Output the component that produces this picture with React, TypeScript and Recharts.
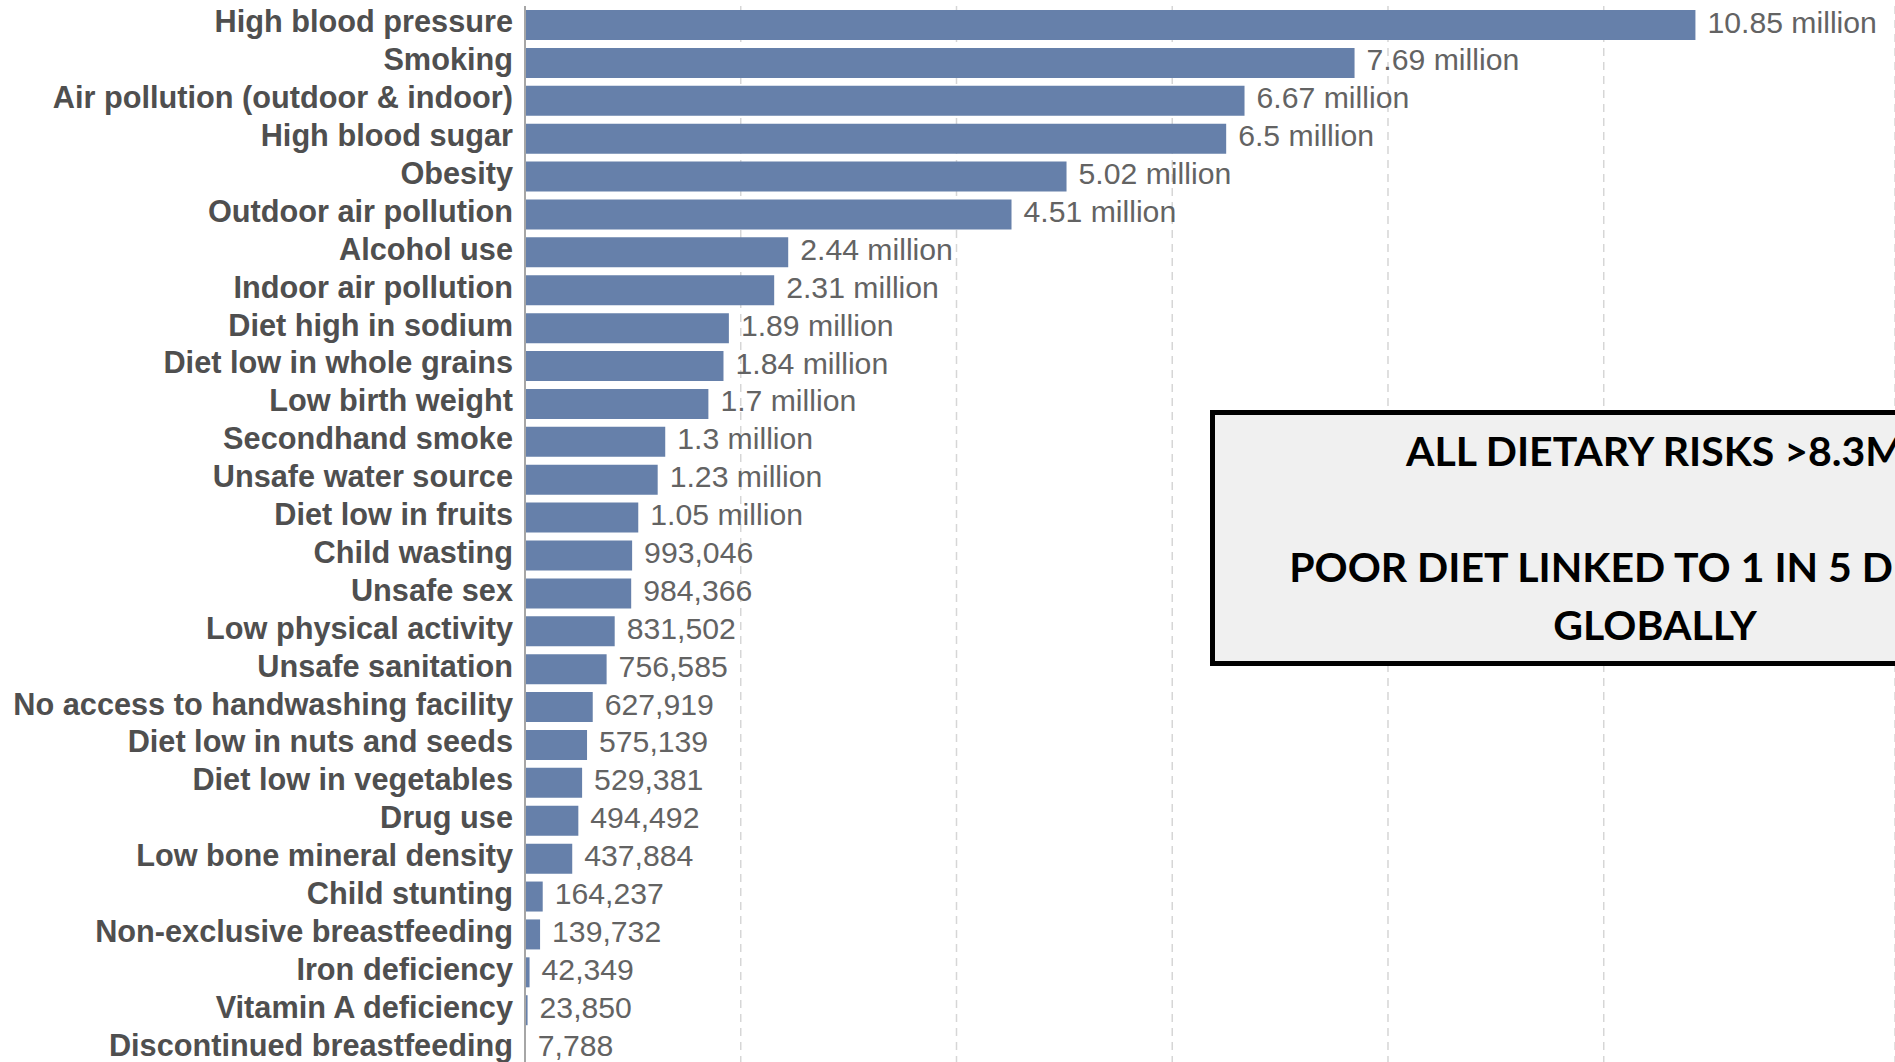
import { BarChart, Bar, XAxis, YAxis, CartesianGrid, LabelList } from "recharts";

const riskFactors = [
  "High blood pressure",
  "Smoking",
  "Air pollution (outdoor & indoor)",
  "High blood sugar",
  "Obesity",
  "Outdoor air pollution",
  "Alcohol use",
  "Indoor air pollution",
  "Diet high in sodium",
  "Diet low in whole grains",
  "Low birth weight",
  "Secondhand smoke",
  "Unsafe water source",
  "Diet low in fruits",
  "Child wasting",
  "Unsafe sex",
  "Low physical activity",
  "Unsafe sanitation",
  "No access to handwashing facility",
  "Diet low in nuts and seeds",
  "Diet low in vegetables",
  "Drug use",
  "Low bone mineral density",
  "Child stunting",
  "Non-exclusive breastfeeding",
  "Iron deficiency",
  "Vitamin A deficiency",
  "Discontinued breastfeeding",
];

const deaths = [
  10850000, 7690000, 6670000, 6500000, 5020000, 4510000, 2440000, 2310000,
  1890000, 1840000, 1700000, 1300000, 1230000, 1050000, 993046, 984366,
  831502, 756585, 627919, 575139, 529381, 494492, 437884, 164237, 139732,
  42349, 23850, 7788,
];

const gridTicks = [0, 2000000, 4000000, 6000000, 8000000, 10000000];

const noteLines = [
  "ALL DIETARY RISKS >8.3M",
  "\u00a0",
  "POOR DIET LINKED TO 1 IN 5 DEATHS",
  "GLOBALLY",
];

const data = riskFactors.map((name, i) => ({ name, deaths: deaths[i] }));

const fmt = (v: number) =>
  v >= 1000000
    ? `${Number((v / 1000000).toFixed(2))} million`
    : v.toLocaleString("en-US");

const CategoryTick = (props: any) => {
  const { x, y, payload } = props;
  return (
    <text
      x={x}
      y={y}
      dy={7.5}
      textAnchor="end"
      fill="#4f4f4f"
      fontSize={30.7}
      fontWeight="bold"
      fontFamily="'Liberation Sans', Arial, sans-serif"
    >
      {payload.value}
    </text>
  );
};

const ValueLabel = (props: any) => {
  const vb = props.viewBox || {};
  const x = props.x ?? vb.x;
  const y = props.y ?? vb.y;
  const width = props.width ?? vb.width;
  const height = props.height ?? vb.height;
  return (
    <text
      x={x + width + 12}
      y={y + height / 2}
      dy={7.5}
      fill="#636363"
      fontSize={30.2}
      fontFamily="'Liberation Sans', Arial, sans-serif"
    >
      {fmt(props.value)}
    </text>
  );
};

export default function App() {
  return (
    <div
      style={{
        position: "fixed",
        left: 0,
        top: 0,
        width: 1895,
        height: 1062,
        overflow: "hidden",
        background: "#ffffff",
      }}
    >
      <BarChart
        width={1895}
        height={1067}
        data={data}
        layout="vertical"
        margin={{ top: 6, right: 0, bottom: 0, left: 0 }}
      >
        <CartesianGrid
          horizontal={false}
          stroke="#d6d6d6"
          strokeWidth={1.5}
          strokeDasharray="8 6"
        />
        <XAxis
          type="number"
          domain={[0, 12700000]}
          ticks={gridTicks}
          hide
        />
        <YAxis
          type="category"
          dataKey="name"
          width={525}
          tickSize={0}
          tickMargin={12}
          tickLine={false}
          axisLine={{ stroke: "#a6a6a6", strokeWidth: 2 }}
          tick={<CategoryTick />}
          interval={0}
        />
        <Bar dataKey="deaths" fill="#6680aa" barSize={30} isAnimationActive={false}>
          <LabelList dataKey="deaths" content={<ValueLabel />} />
        </Bar>
      </BarChart>
      <div
        style={{
          position: "absolute",
          left: 1210,
          top: 410,
          width: 880,
          height: 246,
          border: "5px solid #000000",
          background: "#f0f0f0",
          display: "flex",
          flexDirection: "column",
          justifyContent: "center",
          alignItems: "center",
          fontFamily: "Lato, 'Open Sans', sans-serif",
          fontWeight: 700,
          fontSize: 41,
          lineHeight: "58px",
          color: "#000000",
          whiteSpace: "nowrap",
        }}
      >
        {noteLines.map((line, i) => (
          <div key={i}>{line}</div>
        ))}
      </div>
    </div>
  );
}
